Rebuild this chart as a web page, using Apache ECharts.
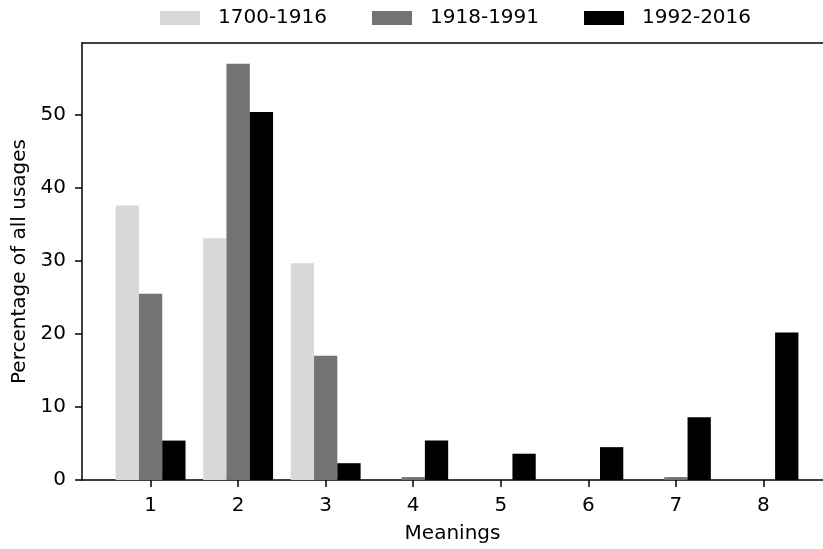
<!DOCTYPE html>
<html>
<head>
<meta charset="utf-8">
<script src="https://cdn.jsdelivr.net/npm/echarts@6/dist/echarts.min.js"></script>
<style>
  html, body { margin: 0; padding: 0; background: #fff; }
  #chart { width: 823px; height: 549px; }
</style>
</head>
<body>
<div id="chart"></div>
<script>
// 数据
var meanings = [1, 2, 3, 4, 5, 6, 7, 8];
var seriesNames = ['1700-1916', '1918-1991', '1992-2016'];
var period1 = [37.6, 33.1, 29.7, 0, 0, 0, 0, 0];
var period2 = [25.5, 57.0, 17.0, 0.4, 0, 0, 0.4, 0];
var period3 = [5.4, 50.4, 2.3, 5.4, 3.6, 4.5, 8.6, 20.2];
var yTicks = [0, 10, 20, 30, 40, 50];
var colors = ['#d8d8d8', '#737373', '#000000'];

var myChart = echarts.init(document.getElementById('chart'));
var font = 'DejaVu Sans';
var spine = { color: '#000', width: 1.5 };

function toPairs(values) {
  return values.map(function (v, i) { return [meanings[i], v]; });
}

var series = [period1, period2, period3].map(function (values, k) {
  return {
    name: seriesNames[k],
    type: 'bar',
    barWidth: 23.3,
    barGap: '0%',
    itemStyle: { color: colors[k] },
    data: toPairs(values)
  };
});

myChart.setOption({
  animation: false,
  textStyle: { fontFamily: font },
  legend: {
    left: 160,
    top: 8,
    padding: 0,
    icon: 'rect',
    itemWidth: 40,
    itemHeight: 14,
    itemGap: 45,
    textStyle: { fontSize: 20, color: '#000', fontFamily: font, padding: [0, 0, 0, 13] },
    data: seriesNames
  },
  grid: {
    left: 82,
    top: 43,
    right: 0,
    bottom: 67
  },
  xAxis: [{
    type: 'value',
    min: 0.217,
    max: 8.68,
    name: 'Meanings',
    nameLocation: 'middle',
    nameGap: 44,
    nameTextStyle: { fontSize: 20, color: '#000', fontFamily: font },
    splitLine: { show: false },
    axisLine: { show: true, lineStyle: spine },
    axisTick: { show: true, length: 7, customValues: meanings, lineStyle: spine },
    axisLabel: { customValues: meanings, fontSize: 20, color: '#000', margin: 16, fontFamily: font }
  }, {
    // 顶部边框
    type: 'value',
    position: 'top',
    min: 0.217,
    max: 8.68,
    splitLine: { show: false },
    axisLine: { show: true, lineStyle: spine },
    axisTick: { show: false },
    axisLabel: { show: false }
  }],
  yAxis: {
    type: 'value',
    min: 0,
    max: 59.85,
    name: 'Percentage of all usages',
    nameLocation: 'middle',
    nameGap: 46,
    nameTextStyle: { fontSize: 20, color: '#000', fontFamily: font },
    splitLine: { show: false },
    axisLine: { show: true, lineStyle: spine },
    axisTick: { show: true, length: 7, customValues: yTicks, lineStyle: spine },
    axisLabel: { customValues: yTicks, fontSize: 20, color: '#000', margin: 16, fontFamily: font }
  },
  series: series
});
</script>
</body>
</html>
